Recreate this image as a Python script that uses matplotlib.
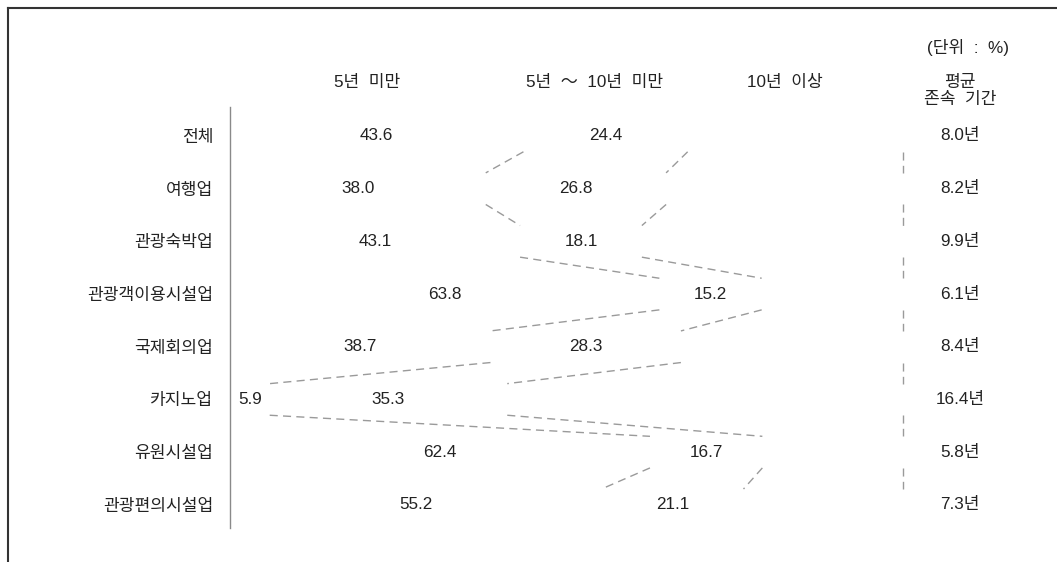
import numpy as np
import matplotlib
matplotlib.use("Agg")
import matplotlib.pyplot as plt
from matplotlib.lines import Line2D

plt.rcParams['font.family'] = ['Liberation Sans', 'Noto Sans CJK KR', 'DejaVu Sans']
plt.rcParams['lines.scale_dashes'] = False

# ---- data ----
categories = ['전체', '여행업', '관광숙박업', '관광객이용시설업', '국제회의업',
              '카지노업', '유원시설업', '관광편의시설업']
under5 = [43.6, 38.0, 43.1, 63.8, 38.7, 5.9, 62.4, 55.2]
from5to10 = [24.4, 26.8, 18.1, 15.2, 28.3, 35.3, 16.7, 21.1]
over10 = [32.0, 35.2, 38.8, 21.0, 33.0, 58.8, 20.9, 23.7]
avg_years = [8.0, 8.2, 9.9, 6.1, 8.4, 16.4, 5.8, 7.3]
series_names = ['5년  미만', '5년  ～  10년  미만', '10년  이상']
avg_header = '평균\n존속  기간'
unit_label = '(단위  :  %)'

W, H = 1057, 562
fig = plt.figure(figsize=(W / 100, H / 100), dpi=100)
fig.patch.set_facecolor('white')
ax = fig.add_axes([230 / W, 34 / H, 673 / W, 421 / H])

n = len(categories)
y = np.arange(n)
bar_h = 0.6
segs = np.array([under5, from5to10, over10]).T
cum = np.cumsum(segs, axis=1)
lefts = cum - segs

# invisible stacked bars
for k in range(3):
    ax.barh(y, segs[:, k], left=lefts[:, k], height=bar_h,
            color='none', edgecolor='none')

# series (connector) lines
dash_color = '#9a9a9a'
for i in range(n - 1):
    for k in range(3):
        ax.plot([cum[i, k], cum[i + 1, k]], [i + bar_h / 2, i + 1 - bar_h / 2],
                color=dash_color, lw=1.0, linestyle=(0, (5.8, 3.8)),
                clip_on=False, solid_capstyle='butt', dash_capstyle='butt')

# value labels (first two segments)
txt_color = '#222222'
fs = 12.3
for k in range(2):
    for i in range(n):
        ax.text(lefts[i, k] + segs[i, k] / 2, i, f'{segs[i, k]:.1f}',
                ha='center', va='center', fontsize=fs, color=txt_color,
                clip_on=False)

# average duration column
avg_x = 108.5
for i in range(n):
    ax.text(avg_x, i, f'{avg_years[i]:.1f}년', ha='center', va='center',
            fontsize=fs, color=txt_color, clip_on=False)

ax.set_xlim(0, 100)
ax.set_ylim(7.44, -0.55)
ax.set_yticks(y)
ax.set_yticklabels(categories, fontsize=fs, color=txt_color)
ax.tick_params(axis='y', length=0, pad=12)
ax.set_xticks([])
for s in ['top', 'right', 'bottom']:
    ax.spines[s].set_visible(False)
ax.spines['left'].set_color('#8a8a8a')
ax.spines['left'].set_linewidth(1.0)
ax.patch.set_alpha(0)

# headers
def fx(px):
    return px / W

def fy(py):
    return 1 - py / H

header_x = [367, 595, 785]
for name, hx in zip(series_names, header_x):
    fig.text(fx(hx), fy(83), name, ha='center', va='center', fontsize=fs,
             color=txt_color)
fig.text(fx(960), fy(91), avg_header, ha='center', va='center', fontsize=fs,
         color=txt_color, linespacing=1.1)
fig.text(fx(968), fy(47), unit_label, ha='center', va='center', fontsize=fs,
         color=txt_color)

# frame lines (top and left)
fig.add_artist(Line2D([fx(7.5), fx(7.5)], [0, fy(7.5)], transform=fig.transFigure,
                      color='#333333', lw=1.5))
fig.add_artist(Line2D([fx(7.5), 1], [fy(7.5), fy(7.5)], transform=fig.transFigure,
                      color='#333333', lw=1.5))

fig.savefig('out.png', dpi=100)
